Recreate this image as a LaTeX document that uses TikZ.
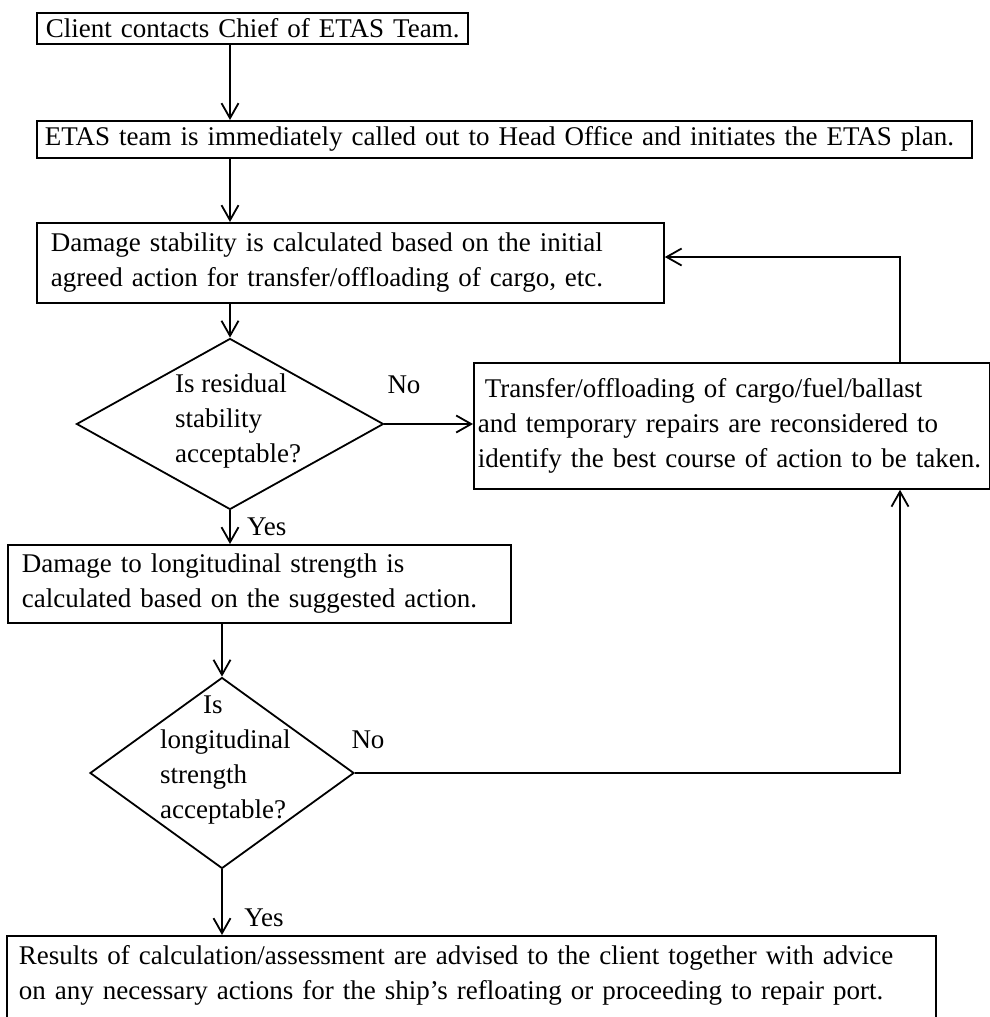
\documentclass[tikz,border=0pt]{standalone}
\usepackage{fontspec}
\setmainfont{Liberation Serif}
\usetikzlibrary{arrows.meta, shapes.geometric}

\begin{document}
\begin{tikzpicture}[
  x=1pt, y=-1pt,
  every node/.style={font=\fontsize{27pt}{35pt}\selectfont},
  box/.style={draw, line width=1.8pt, anchor=north west, align=left, inner ysep=0pt},
  dia/.style={diamond, draw, line width=1.8pt, inner sep=0pt},
  txt/.style={align=left, inner sep=0pt},
  arr/.style={-{Straight Barb[length=15pt,width=17pt]}, line width=1.8pt}
]
\useasboundingbox (0,0) rectangle (989,1017);

% boxes and decisions
\node[box, text width=425pt, inner xsep=3pt, minimum height=31pt] (client) at (36,12) {\hspace*{6pt}Client contacts Chief of ETAS Team.};
\node[box, text width=919pt, inner xsep=8pt, minimum height=37pt] (call) at (36,120) {ETAS team is immediately called out to Head Office and initiates the ETAS plan.};
\node[box, text width=599pt, inner xsep=14pt, minimum height=80pt] (stab) at (36,222) {Damage stability is calculated based on the initial\\agreed action for transfer/offloading of cargo, etc.};
\node[dia, minimum width=307pt, minimum height=171pt] (q1) at (230,424) {};
\node[txt, anchor=west] (q1t) at (175,421) {Is residual\\stability\\acceptable?};
\node[box, text width=508pt, inner xsep=4pt, minimum height=126pt] (redo) at (473,362) {\hspace*{7pt}Transfer/offloading of cargo/fuel/ballast\\and temporary repairs are reconsidered to\\identify the best course of action to be taken.};
\node[box, text width=475pt, inner xsep=14pt, minimum height=78pt] (long) at (7,544) {Damage to longitudinal strength is\\calculated based on the suggested action.};
\node[dia, minimum width=264pt, minimum height=191pt] (q2) at (222,773) {};
\node[txt, anchor=west] (q2t) at (160,760) {\hspace*{43pt}Is\\longitudinal\\strength\\acceptable?};
\node[box, text width=905pt, inner xsep=12pt, inner ysep=10pt, text depth=80pt] (result) at (6,935) {Results of calculation/assessment are advised to the client together with advice\\on any necessary actions for the ship's refloating or proceeding to repair port.};

% labels
\node[txt] (no1) at (404,385) {No};
\node[txt, anchor=west] (yes1) at (247,527) {Yes};
\node[txt] (no2) at (368,740) {No};
\node[txt] (yes2) at (264,918) {Yes};

% connectors
\coordinate (loop) at (900,257);
\draw[arr] (client.south -| q1) -- (call.north -| q1);
\draw[arr] (call.south -| q1) -- (stab.north -| q1);
\draw[arr] (stab.south -| q1) -- (q1.north);
\draw[arr] (q1.east) -- (q1.east -| redo.west);
\draw[arr] (q1.south) -- (long.north -| q1);
\draw[arr] (long.south -| q2) -- (q2.north);
\draw[arr] (q2.east) -| (redo.south -| loop);
\draw[arr] (redo.north -| loop) |- (stab.east |- loop);
\draw[arr] (q2.south) -- (result.north -| q2);
\end{tikzpicture}
\end{document}
